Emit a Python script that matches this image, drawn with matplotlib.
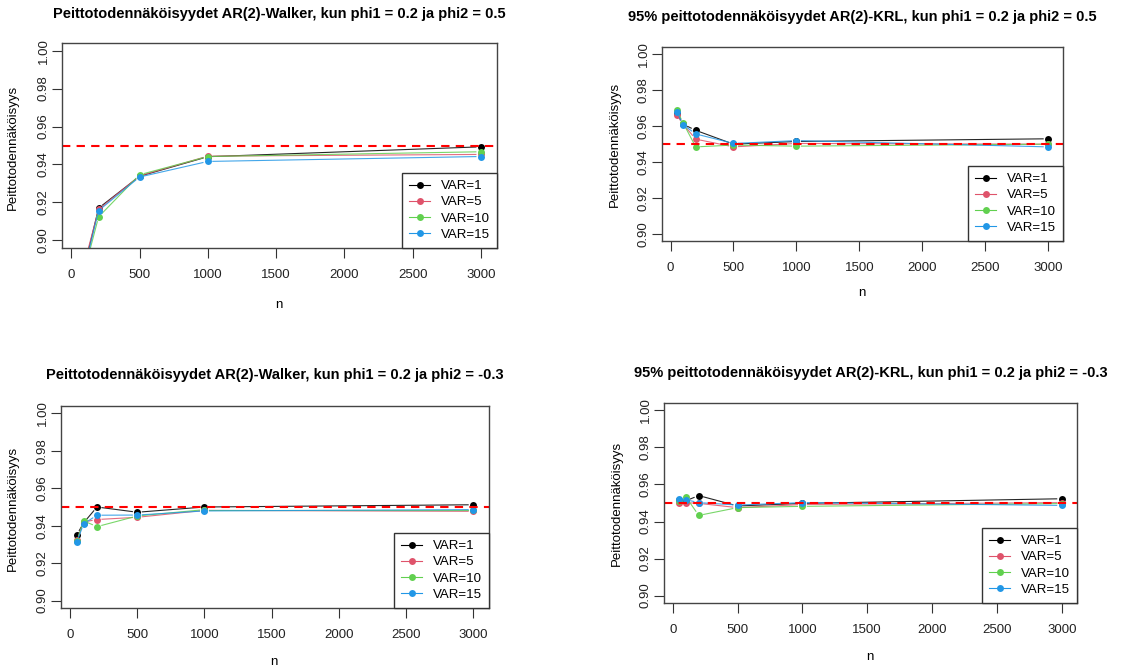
import matplotlib
matplotlib.use("Agg")
import matplotlib.pyplot as plt
import numpy as np

plt.rcParams['font.family'] = ['Liberation Sans', 'DejaVu Sans']

W, H = 1145, 671

n = [50, 100, 200, 500, 1000, 3000]
labels = ["VAR=1", "VAR=5", "VAR=10", "VAR=15"]
colors = ["#000000", "#DF536B", "#61D04F", "#2297E6"]

# Walker, phi1 = 0.2, phi2 = 0.5
walker_pos = [
    [0.862, 0.887, 0.917, 0.9338, 0.9441, 0.9493],
    [0.866, 0.889, 0.9163, 0.934, 0.9444, 0.9453],
    [0.858, 0.885, 0.9124, 0.9346, 0.9442, 0.9467],
    [0.860, 0.886, 0.9157, 0.9334, 0.9416, 0.9442],
]
# KRL, phi1 = 0.2, phi2 = 0.5
krl_pos = [
    [0.9674, 0.9610, 0.9576, 0.9499, 0.9514, 0.9529],
    [0.9659, 0.9610, 0.9527, 0.9484, 0.9503, 0.9499],
    [0.9687, 0.9617, 0.9484, 0.9494, 0.9488, 0.9499],
    [0.9678, 0.9608, 0.9556, 0.9503, 0.9519, 0.9484],
]
# Walker, phi1 = 0.2, phi2 = -0.3
walker_neg = [
    [0.9351, 0.9415, 0.9500, 0.9472, 0.9500, 0.9512],
    [0.9323, 0.9420, 0.9433, 0.9445, 0.9482, 0.9477],
    [0.9318, 0.9426, 0.9395, 0.9452, 0.9486, 0.9486],
    [0.9312, 0.9410, 0.9456, 0.9457, 0.9479, 0.9486],
]
# KRL, phi1 = 0.2, phi2 = -0.3
krl_neg = [
    [0.9516, 0.9512, 0.9540, 0.9484, 0.9498, 0.9523],
    [0.9498, 0.9502, 0.9498, 0.9475, 0.9492, 0.9502],
    [0.9510, 0.9534, 0.9433, 0.9475, 0.9482, 0.9497],
    [0.9523, 0.9518, 0.9502, 0.9489, 0.9502, 0.9487],
]

titles = [
    "Peittotodennäköisyydet AR(2)-Walker, kun phi1 = 0.2 ja phi2 = 0.5",
    "95% peittotodennäköisyydet AR(2)-KRL, kun phi1 = 0.2 ja phi2 = 0.5",
    "Peittotodennäköisyydet AR(2)-Walker, kun phi1 = 0.2 ja phi2 = -0.3",
    "95% peittotodennäköisyydet AR(2)-KRL, kun phi1 = 0.2 ja phi2 = -0.3",
]
datasets = [walker_pos, krl_pos, walker_neg, krl_neg]

# pixel boxes of plot areas and text positions
boxes = [(62, 497, 43, 248), (662, 1063, 47, 241), (61, 489, 406, 608), (664, 1077, 403, 603)]
title_pos = [(279, 14), (862, 17), (275, 375), (871, 373)]
xlab_pos = [(279, 305), (862, 293), (274, 662), (870, 657)]
ylab_pos = [(13, 147), (615, 144), (13, 508), (617, 503)]

GAP = 5.0  # px, like R type="b"

fig = plt.figure(figsize=(W / 100, H / 100), dpi=100)

for k in range(4):
    x0, x1, y0, y1 = boxes[k]
    ax = fig.add_axes([x0 / W, 1 - y1 / H, (x1 - x0) / W, (y1 - y0) / H])
    ax.set_xlim(-68, 3118)
    ax.set_ylim(0.896, 1.004)
    tr = ax.transData
    inv = tr.inverted()
    for vals, lab, col in zip(datasets[k], labels, colors):
        pts = tr.transform(np.column_stack([n, vals]))
        # line segments with small gaps round each point
        for a, b in zip(pts[:-1], pts[1:]):
            d = b - a
            L = np.hypot(*d)
            if L <= 2 * GAP:
                continue
            u = d / L
            seg = inv.transform(np.array([a + u * GAP, b - u * GAP]))
            ax.plot(seg[:, 0], seg[:, 1], '-', color=col, lw=0.8, alpha=0.85)
        ax.plot(n, vals, 'o', color=col, ms=5, markeredgewidth=0)
        ax.plot([], [], '-o', color=col, lw=0.8, ms=5, markeredgewidth=0, label=lab)
    ax.axhline(0.95, color='red', ls=(0, (4, 3)), lw=1.5)
    ax.set_xticks([0, 500, 1000, 1500, 2000, 2500, 3000])
    ax.set_yticks([0.90, 0.92, 0.94, 0.96, 0.98, 1.00])
    ax.set_yticklabels(["0.90", "0.92", "0.94", "0.96", "0.98", "1.00"],
                       rotation=90, va='center')
    ax.tick_params(labelsize=9.5, length=7, color='#333333', labelcolor='#222222')
    ax.tick_params(axis='x', pad=8)
    ax.tick_params(axis='y', pad=2)
    for s in ax.spines.values():
        s.set_color('#444444')
        s.set_linewidth(1.0)
    leg = ax.legend(loc='lower right', borderaxespad=0, fontsize=9.5,
                    handlelength=1.6, handletextpad=0.8, labelspacing=0.3,
                    fancybox=False, framealpha=1, borderpad=0.55)
    leg.get_frame().set_edgecolor('#333333')
    leg.get_frame().set_linewidth(1.0)

    tx, ty = title_pos[k]
    fig.text(tx / W, 1 - ty / H, titles[k], ha='center', va='center',
             fontsize=10.5, fontweight='bold')
    lx, ly = xlab_pos[k]
    fig.text(lx / W, 1 - ly / H, "n", ha='center', va='center', fontsize=9.5)
    yx, yy = ylab_pos[k]
    fig.text(yx / W, 1 - yy / H, "Peittotodennäköisyys", ha='center', va='center',
             rotation=90, fontsize=9.5)

fig.savefig("out.png", dpi=100)
